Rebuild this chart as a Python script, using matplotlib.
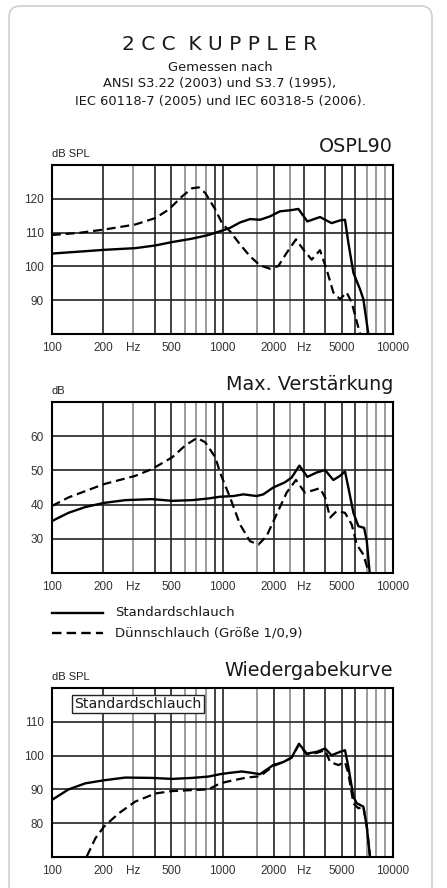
import matplotlib.pyplot as plt
from matplotlib.patches import FancyBboxPatch
from matplotlib.lines import Line2D

# OSPL90
ospl_std_f = [100, 157, 202, 308, 404, 506, 662, 829, 967, 1107, 1267, 1450, 1660, 1901, 2176, 2491,
              2787, 3145, 3731, 4366, 4886, 5230, 5472, 5859, 6410, 6701, 7167]
ospl_std_v = [103.8, 104.5, 104.9, 105.4, 106.2, 107.2, 108.2, 109.3, 110.4, 111.4, 113, 114, 113.8,
              114.8, 116.3, 116.6, 117, 113.3, 114.6, 112.8, 113.6, 113.8, 107, 98.1, 93.2, 90.3, 80]
ospl_thin_f = [100, 143, 202, 308, 404, 483, 579, 662, 725, 793, 908, 1000, 1107, 1267, 1450, 1660,
               1901, 2125, 2378, 2697, 2978, 3335, 3731, 4080, 4467, 4886, 5346, 5724, 6410]
ospl_thin_v = [109.3, 109.9, 110.9, 112.4, 114.3, 116.8, 120.7, 123.1, 123.4, 121.7, 116.8, 112.5,
               110.4, 106.5, 103, 100.3, 99.3, 100.1, 104, 108, 105, 102, 104.8, 99.1, 92.3, 90.3,
               92.3, 89.3, 80]

# Max. Verstaerkung
gain_std_f = [100, 125, 157, 202, 269, 386, 506, 662, 829, 967, 1158, 1325, 1586, 1736, 1985, 2321,
              2542, 2825, 3145, 3570, 3996, 4467, 4886, 5230, 5472, 5859, 6266, 6770, 7020, 7284]
gain_std_v = [35.2, 37.6, 39.3, 40.5, 41.3, 41.6, 41.1, 41.3, 41.8, 42.3, 42.5, 43, 42.5, 43, 45, 46.5,
              47.9, 51.4, 48.1, 49.4, 50.1, 47.2, 48.4, 49.7, 45, 37.6, 33.7, 33.2, 29.3, 20.5]
gain_thin_f = [100, 125, 202, 308, 386, 506, 605, 709, 793, 908, 967, 1107, 1267, 1450, 1623, 1815,
               2078, 2378, 2697, 3044, 3410, 3731, 3996, 4276, 4673, 5230, 5724, 6131, 6701, 7167]
gain_thin_v = [39.6, 42.1, 46, 48.4, 50.4, 53.8, 57.3, 59.5, 58.2, 53.8, 49.4, 42.1, 34.2, 29.3, 28.3,
               30.8, 37.2, 43.5, 47.2, 43.5, 44.2, 44.8, 42.1, 36.2, 38.1, 37.6, 34.2, 28.3, 25.4, 20.5]

# Wiedergabekurve
resp_std_f = [100, 125, 157, 202, 269, 386, 506, 662, 829, 967, 1107, 1296, 1482, 1660, 1985, 2274,
              2542, 2810, 3117, 3570, 3996, 4362, 4886, 5230, 5472, 5859, 6131, 6701, 7020, 7324]
resp_std_v = [86.9, 90, 91.8, 92.7, 93.5, 93.4, 93.1, 93.4, 93.8, 94.5, 94.9, 95.3, 94.9, 94.5, 97.2,
              98.1, 99.4, 103.5, 100.6, 101.1, 102.1, 100.1, 101.1, 101.6, 96.7, 87.8, 85.9, 84.9,
              79, 70.2]
resp_thin_f = [160, 180, 202, 246, 308, 404, 506, 662, 829, 967, 1158, 1386, 1660, 1985, 2274, 2542,
               2810, 3117, 3570, 3996, 4276, 4787, 5230, 5472, 5859, 6266, 6701, 7020, 7324]
resp_thin_v = [70.2, 75.6, 79, 82.9, 86.4, 88.8, 89.5, 89.8, 90, 91.8, 92.7, 93.5, 93.9, 96.9, 98.1,
               99.4, 103.3, 100.4, 100.8, 101.6, 98.1, 97.2, 98.1, 94.7, 85.9, 84.4, 84.9, 79, 70.2]

xtick_pos = [100, 200, 300, 500, 1000, 2000, 3000, 5000, 10000]
xtick_lab = ['100', '200', 'Hz', '500', '1000', '2000', 'Hz', '5000', '10000']
grid_f = [100, 200, 300, 400, 500, 600, 700, 800, 900, 1000, 1600, 2000, 2500, 3000, 4000, 5000,
          6000, 7000, 8000, 9000, 10000]
light_f = [300, 600, 700, 800, 1600, 2500, 7000, 8000, 9000]

W, H = 447, 888
fig = plt.figure(figsize=(W / 100, H / 100), dpi=100)
fig.patch.set_facecolor('white')

# card frame
card = FancyBboxPatch((9 / W, -0.05), 423 / W, 1 - 6 / H + 0.05,
                      boxstyle='round,pad=0,rounding_size=0.025', transform=fig.transFigure,
                      facecolor='white', edgecolor='#cfcfcf', lw=1.2, mutation_aspect=W / H,
                      zorder=-5)
fig.patches.append(card)

txt = dict(family='DejaVu Sans', color='#1a1a1a')
fig.text(220 / W, 1 - 45 / H, '2 C C  K U P P L E R', ha='center', va='center', fontsize=14.5, **txt)
sub = ['Gemessen nach', 'ANSI S3.22 (2003) und S3.7 (1995),', 'IEC 60118-7 (2005) und IEC 60318-5 (2006).']
for i, s in enumerate(sub):
    fig.text(220 / W, 1 - (67 + 17 * i) / H, s, ha='center', va='center', fontsize=9.4, **txt)


def panel(top_px, bot_px, ylim, yticks, title, ylab, sf, sv, tf, tv):
    ax = fig.add_axes([52 / W, 1 - bot_px / H, 341 / W, (bot_px - top_px) / H])
    ax.set_facecolor('none')
    ax.set_xscale('log')
    ax.set_xlim(100, 10000)
    ax.set_ylim(*ylim)
    for f in grid_f:
        if f in light_f:
            ax.axvline(f, color='#808080', lw=1.1, zorder=1)
        else:
            ax.axvline(f, color='#222222', lw=1.2, zorder=1)
    for y in range(ylim[0], ylim[1] + 1, 10):
        ax.axhline(y, color='#222222', lw=1.2, zorder=1)
    ax.plot(sf, sv, color='black', lw=1.7, zorder=3, solid_joinstyle='round')
    ax.plot(tf, tv, color='black', lw=1.6, ls=(0, (4, 2.2)), zorder=3)
    ax.set_xticks(xtick_pos)
    ax.set_xticklabels(xtick_lab)
    ax.minorticks_off()
    ax.set_yticks(yticks)
    ax.tick_params(length=0, labelsize=8.5, labelcolor='#333333', pad=6)
    for lab in ax.get_xticklabels() + ax.get_yticklabels():
        lab.set_family('Liberation Sans')
    for s in ax.spines.values():
        s.set_linewidth(1.5)
    fig.text(52 / W, 1 - (top_px - 11) / H, ylab, ha='left', va='center', fontsize=8,
             family='Liberation Sans', color='#222222')
    fig.text(393 / W, 1 - (top_px - 18) / H, title, ha='right', va='center', fontsize=13.8, **txt)
    return ax


panel(165, 334, (80, 130), [90, 100, 110, 120], 'OSPL90', 'dB SPL',
      ospl_std_f, ospl_std_v, ospl_thin_f, ospl_thin_v)
panel(402, 573, (20, 70), [30, 40, 50, 60], 'Max. Verstärkung', 'dB',
      gain_std_f, gain_std_v, gain_thin_f, gain_thin_v)
ax3 = panel(688, 857, (70, 120), [80, 90, 100, 110], 'Wiedergabekurve', 'dB SPL',
            resp_std_f, resp_std_v, resp_thin_f, resp_thin_v)
ax3.text(0.065, 0.905, 'Standardschlauch', transform=ax3.transAxes, ha='left', va='center',
         fontsize=10.2, zorder=5, bbox=dict(boxstyle='square,pad=0.15', fc='white', ec='#222222', lw=1),
         **txt)

# legend
fig.lines.append(Line2D([52 / W, 103 / W], [1 - 613 / H] * 2, transform=fig.transFigure,
                        color='black', lw=1.7))
fig.lines.append(Line2D([52 / W, 103 / W], [1 - 633 / H] * 2, transform=fig.transFigure,
                        color='black', lw=1.7, ls=(0, (4, 2.2))))
fig.text(115 / W, 1 - 613 / H, 'Standardschlauch', ha='left', va='center', fontsize=9.5, **txt)
fig.text(115 / W, 1 - 633 / H, 'Dünnschlauch (Größe 1/0,9)', ha='left', va='center', fontsize=9.5, **txt)

plt.savefig('out.png', dpi=100)
